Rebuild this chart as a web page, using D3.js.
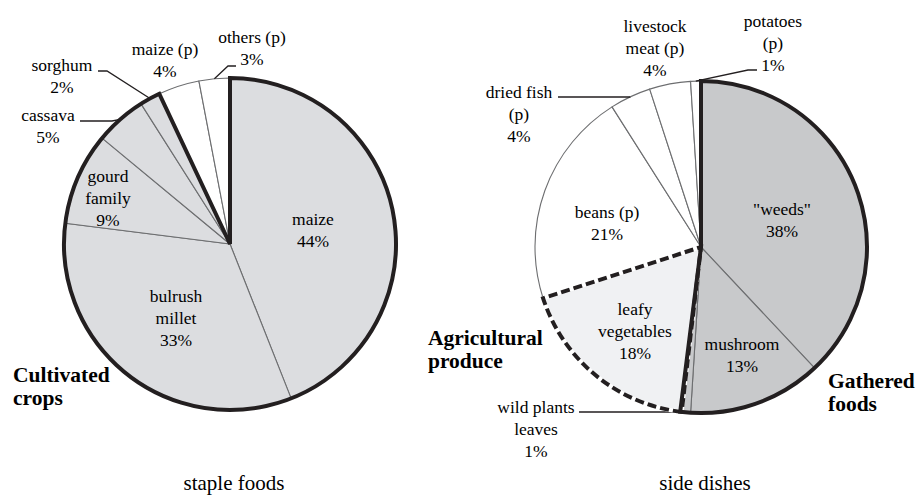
<!DOCTYPE html>
<html>
<head>
<meta charset="utf-8">
<script src="https://cdn.jsdelivr.net/npm/d3@7"></script>
</head>
<body style="margin:0">
<svg id="chart" width="917" height="495"></svg>
<script>
// ---- data ----
const stapleLines = [["maize"], ["bulrush", "millet"], ["gourd", "family"], ["cassava"], ["sorghum"], ["maize (p)"], ["others (p)"]];
const stapleValues = [44, 33, 9, 5, 2, 4, 3];
const stapleGroups = ["cult", "cult", "cult", "cult", "cult", "purch", "purch"];

const sideLines = [['"weeds"'], ["mushroom"], ["wild plants", "leaves"], ["leafy", "vegetables"], ["beans (p)"], ["dried fish", "(p)"], ["livestock", "meat (p)"], ["potatoes", "(p)"]];
const sideValues = [38, 13, 1, 18, 21, 4, 4, 1];
const sideGroups = ["gath", "gath", "gath", "agri", "purch", "purch", "purch", "purch"];

const pieTitles = ["staple foods", "side dishes"];

// ---- layout (label placement relative to pie centre) ----
const fills = { cult: "#dcdde0", purch: "#ffffff", gath: "#c8c9cb", agri: "#f0f1f3" };
const R = 166;
const lineH = 22;
const ink = "#231f20";

const stapleLayout = [
  { dx: 83, dy: -19 },
  { dx: -54, dy: 58 },
  { dx: -122, dy: -62 },
  { dx: -182, dy: -123, elbow: [-118, -123], end: [-150, -123] },
  { dx: -168, dy: -173, elbow: [-123, -173], end: [-132, -173] },
  { dx: -65, dy: -189 },
  { dx: 22, dy: -201, elbow: [-2, -178], end: [6, -178] }
];
const sideLayout = [
  { dx: 81, dy: -32 },
  { dx: 41, dy: 103 },
  { dx: -165, dy: 166, elbow: [-16, 165], end: [-122, 165] },
  { dx: -66, dy: 68 },
  { dx: -94, dy: -29 },
  { dx: -182, dy: -149, elbow: [-71, -150], end: [-143, -150] },
  { dx: -46, dy: -215 },
  { dx: 72, dy: -220, elbow: [47, -177], end: [56, -177] }
];

const svg = d3.select("#chart");

const pie = d3.pie().sort(null).value(d => d).startAngle(0).endAngle(2 * Math.PI);
const arc = d3.arc().innerRadius(0).outerRadius(R);
const rim = d3.arc().innerRadius(R).outerRadius(R);

// marks go in this layer, texts are appended after it
const markLayer = svg.append("g");

// one <text> per line, straight onto the svg
function addLines(x, y, size, rows, anchor, bold, gap) {
  rows.forEach((r, k) => {
    const t = svg.append("text")
      .attr("x", x)
      .attr("y", y + k * gap)
      .attr("font-size", size)
      .attr("text-anchor", anchor)
      .style("font-family", "Liberation Serif");
    if (bold) t.style("font-weight", "bold");
    t.text(r);
  });
}

function drawPie(cx, cy, values, lines, groups, layout, title) {
  const g = markLayer.append("g").attr("transform", `translate(${cx},${cy})`);
  const arcs = pie(values);

  g.selectAll("path.slice")
    .data(arcs)
    .enter()
    .append("path")
    .attr("class", "slice")
    .attr("d", arc)
    .attr("fill", (d, i) => fills[groups[i]])
    .attr("stroke", "#6d6e70")
    .attr("stroke-width", 1.1)
    .attr("stroke-linejoin", "round");

  arcs.forEach((a, i) => {
    const L = layout[i];
    addLines(cx + L.dx, cy + L.dy, 17.5, lines[i].concat([values[i] + "%"]), "middle", false, lineH);
    if (L.elbow) {
      const p = rim.centroid(a);
      g.append("path")
        .attr("d", d3.line()([p, L.elbow, L.end]))
        .attr("fill", "none")
        .attr("stroke", ink)
        .attr("stroke-width", 1.3);
    }
  });

  addLines(cx + 4, 490, 21, [title], "middle", false, 0);
  return { g, arcs };
}

function groupSector(arcs, groups, key) {
  const sel = arcs.filter((a, i) => groups[i] == key);
  return { startAngle: sel[0].startAngle, endAngle: sel[sel.length - 1].endAngle };
}

// ---- left pie: staple foods ----
const left = drawPie(230, 244, stapleValues, stapleLines, stapleGroups, stapleLayout, pieTitles[0]);
left.g.append("path")
  .attr("d", arc(groupSector(left.arcs, stapleGroups, "cult")))
  .attr("fill", "none")
  .attr("stroke", ink)
  .attr("stroke-width", 4)
  .attr("stroke-linejoin", "miter");

// ---- right pie: side dishes ----
const right = drawPie(701, 247, sideValues, sideLines, sideGroups, sideLayout, pieTitles[1]);
const agri = groupSector(right.arcs, sideGroups, "agri");
const agriOut = { startAngle: agri.startAngle - 0.009, endAngle: agri.endAngle };
right.g.append("path")
  .attr("d", arc(agriOut))
  .attr("fill", "none")
  .attr("stroke", "#fff")
  .attr("stroke-width", 4);
right.g.append("path")
  .attr("d", arc(agriOut))
  .attr("fill", "none")
  .attr("stroke", ink)
  .attr("stroke-width", 4)
  .attr("stroke-dasharray", "9,4");
right.g.append("path")
  .attr("d", arc(groupSector(right.arcs, sideGroups, "gath")))
  .attr("fill", "none")
  .attr("stroke", ink)
  .attr("stroke-width", 4)
  .attr("stroke-linejoin", "miter");

// ---- group captions ----
addLines(13, 382, 21.5, ["Cultivated", "crops"], "start", true, 23);
addLines(428, 345, 21.5, ["Agricultural", "produce"], "start", true, 23);
addLines(828, 388, 21.5, ["Gathered", "foods"], "start", true, 23);
</script>
</body>
</html>
